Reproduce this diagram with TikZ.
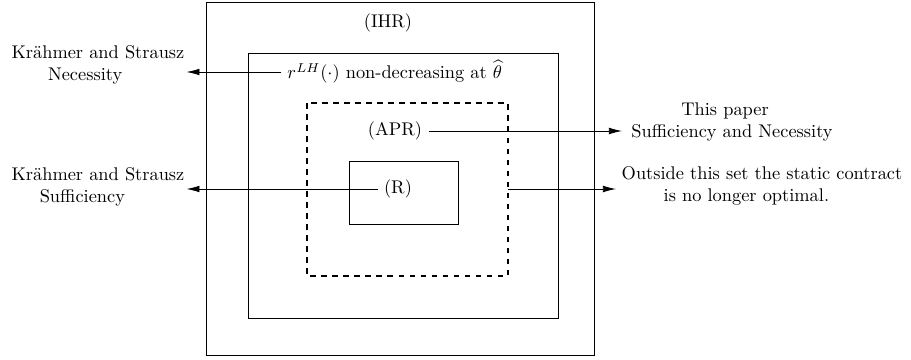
\documentclass[tikz,border=0pt]{standalone}
\usepackage{tikz}
\usetikzlibrary{arrows}
\usetikzlibrary{arrows.meta}
\usetikzlibrary{positioning}

\begin{document}
\begin{tikzpicture}[x=0.5444pt, y=-0.5444pt, ->, >={Latex[length=7pt,width=3.6pt]}, thin]
\tikzstyle{set} = [draw=black, thin, -]
\tikzstyle{side} = [align=center, inner sep=1pt]

\useasboundingbox (0,0) rectangle (911,360);

% nested sets
\draw[set] (206,2) rectangle (594,355);
\draw[set] (248,53) rectangle (558,318);
\draw[set, dashed, semithick] (307,103) rectangle (508,276);
\draw[set] (349,161) rectangle (458,224);
\coordinate (aprE) at (508,189);

\node (ihr) at (388,23) {(IHR)};
\node[anchor=west] (mono) at (281,72) {$r^{LH}(\cdot)$ non-decreasing at $\widehat{\theta}$};
\node (apr) at (395,131) {(APR)};
\node (r) at (398,189) {(R)};

\node[side] (krN) at (98,65) {Krähmer and Strausz\\Necessity\hspace*{14pt}};
\node[side] (krS) at (98,187) {Krähmer and Strausz\\Sufficiency\hspace*{17pt}};
\node[side, inner sep=5pt] (paper) at (732,122) {This paper\hspace*{7.5pt}\\Sufficiency and Necessity};
\node[side, inner sep=3pt] (outside) at (762,186) {Outside this set the static contract\\is no longer optimal.\hspace*{17pt}};

\draw (mono.west) -- (mono.west -| krN.east);
\draw (apr.east) -- (apr.east -| paper.west);
\draw (r.west) -- (r.west -| krS.east);
\draw (aprE) -- (aprE -| outside.west);

\end{tikzpicture}
\end{document}
